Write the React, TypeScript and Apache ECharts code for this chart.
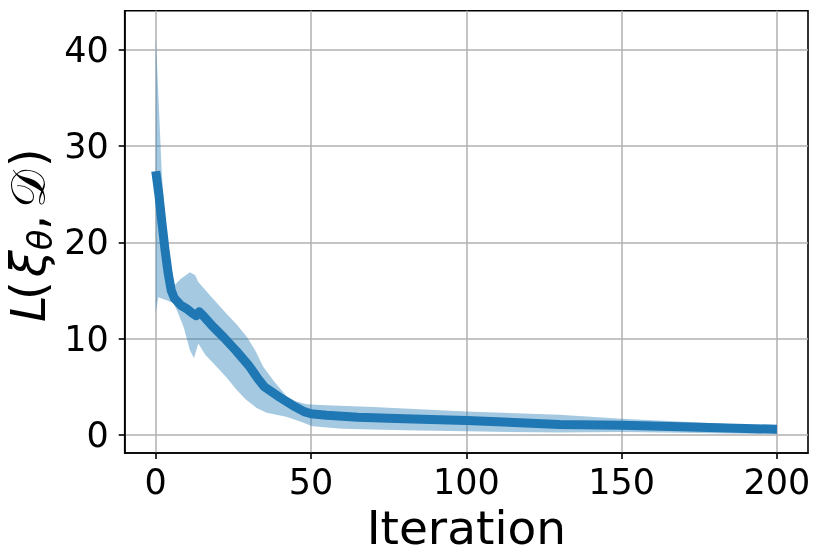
import React, { useEffect, useRef } from "react";
import * as echarts from "echarts";

const meanLine: [number, number][] = [
  [0, 27.4], [1, 25.0], [2, 22.0], [3, 19.2], [4, 16.8], [5, 15.0], [6, 14.2], [8, 13.5],
  [10, 13.1], [12, 12.6], [13, 12.4], [14, 12.8], [15, 12.5], [18, 11.4], [22, 10.1],
  [26, 8.7], [30, 7.2], [33, 5.8], [35, 5.0], [40, 3.9], [45, 2.9], [48, 2.4], [50, 2.2],
  [55, 2.05], [65, 1.85], [80, 1.7], [100, 1.5], [130, 1.1], [150, 1.0], [175, 0.8], [200, 0.6],
];

const bandUpper: [number, number][] = [
  [0, 41.5], [1.9, 27.5], [3, 22], [4.5, 17], [5.5, 15.5], [6.2, 15.6], [8, 16.2], [11, 16.9],
  [12.7, 16.6], [13.7, 15.9], [18, 14.3], [22.8, 12.6], [26, 11.5], [29.3, 10.2], [32, 8.8],
  [34.6, 7.1], [38, 5.6], [42.2, 4.0], [45, 3.5], [48.6, 3.2], [55, 3.1], [70, 2.9],
  [100, 2.45], [130, 2.1], [150, 1.7], [175, 1.3], [200, 0.9],
];

const bandLower: [number, number][] = [
  [0, 12.7], [0.8, 14.3], [3.5, 14.0], [5.7, 13.7], [7, 12.8], [9, 11.2], [11, 8.8],
  [12.3, 8.0], [13.7, 9.5], [16, 8.3], [19.6, 7.1], [23, 5.9], [26, 4.7], [29, 3.7],
  [32.5, 2.8], [35.7, 2.3], [42, 1.9], [46.5, 1.4], [50.5, 0.9], [60, 0.65], [80, 0.5],
  [100, 0.38], [130, 0.25], [150, 0.3], [175, 0.2], [200, 0.1],
];

const xTicks = [0, 50, 100, 150, 200];
const yTicks = [0, 10, 20, 30, 40];

const BLUE = "#1f77b4";

export default function App() {
  const ref = useRef<HTMLDivElement>(null);
  useEffect(() => {
    if (!ref.current) return;
    const chart = echarts.init(ref.current, undefined, { renderer: "svg" });
    const fs = 48;
    const mainY = -16;
    const label = (text: string, x: number, y: number, size: number, italic: boolean, family = "DejaVu Sans") => ({
      type: "text",
      x,
      y,
      style: {
        text,
        fontSize: size,
        fontFamily: family,
        fontStyle: italic ? "italic" : "normal",
        fill: "#000",
        textAlign: "left",
        textVerticalAlign: "middle",
      },
    });
    chart.setOption({
      animation: false,
      grid: {
        left: 124.7, top: 10.7, right: 22, bottom: 101,
        outerBoundsMode: "none", containLabel: false,
        show: true, borderColor: "#000", borderWidth: 1.6, backgroundColor: "transparent",
      },
      xAxis: {
        type: "value",
        min: -10,
        max: 210,
        name: "Iteration",
        nameLocation: "middle",
        nameGap: 51,
        nameTextStyle: { fontSize: 47, lineHeight: 44, fontFamily: "DejaVu Sans", color: "#000" },
        axisLine: { show: true, onZero: false, lineStyle: { color: "#000", width: 1.6 } },
        axisTick: { show: true, length: 6, lineStyle: { color: "#000", width: 1.6 }, customValues: xTicks },
        axisLabel: { fontSize: 35, fontFamily: "DejaVu Sans", color: "#000", margin: 11, customValues: xTicks },
        splitLine: { show: true, lineStyle: { color: "#b0b0b0", width: 1.5 } },
      },
      yAxis: {
        type: "value",
        min: -1.87,
        max: 44.08,
        axisLine: { show: true, onZero: false, lineStyle: { color: "#000", width: 1.6 } },
        axisTick: { show: true, length: 6, lineStyle: { color: "#000", width: 1.6 }, customValues: yTicks },
        axisLabel: { fontSize: 35, fontFamily: "DejaVu Sans", color: "#000", margin: 16, customValues: yTicks },
        splitLine: { show: true, lineStyle: { color: "#b0b0b0", width: 1.5 } },
      },
      graphic: [
        {
          type: "group",
          x: 44,
          y: 322,
          rotation: Math.PI / 2,
          children: [
            label("L", 0, mainY, fs, true),
            label("(", 22, mainY, fs, false),
            label("ξ", 45, mainY, fs, true),
            label("θ", 72, -4, 33, true),
            label(",", 92, mainY, fs, false),
            label("𝒟", 114, mainY, fs, false),
            label(")", 155, mainY, fs, false),
          ],
        },
      ],
      series: [
        {
          type: "custom",
          z: 1,
          silent: true,
          data: [[0, 0]],
          renderItem: (_params: any, api: any) => {
            const pts: number[][] = [];
            bandUpper.forEach((p) => pts.push(api.coord(p)));
            for (let i = bandLower.length - 1; i >= 0; i--) pts.push(api.coord(bandLower[i]));
            return {
              type: "polygon",
              shape: { points: pts },
              style: { fill: "rgba(31,119,180,0.4)", stroke: "none" },
            };
          },
        },
        {
          type: "line",
          z: 3,
          data: meanLine,
          showSymbol: false,
          symbol: "none",
          lineStyle: { color: BLUE, width: 9, cap: "butt", join: "round" },
        },
      ],
    });
    return () => chart.dispose();
  }, []);
  return <div ref={ref} style={{ position: "fixed", left: 0, top: 0, width: 830, height: 554 }} />;
}
